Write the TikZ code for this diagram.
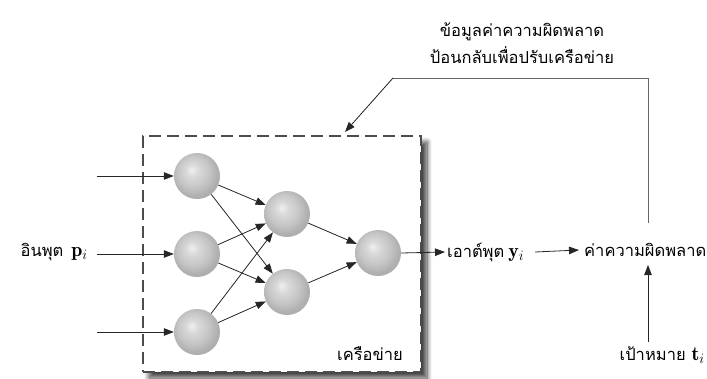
\documentclass[tikz,border=0pt]{standalone}
\usepackage{fontspec}
\newfontfamily\thai[Script=Thai]{Loma}
\usetikzlibrary{arrows.meta,shadows.blur}
\pgfdeclareradialshading{sphereshade}{\pgfpoint{-6bp}{7bp}}{color(0bp)=(gray!12); color(7bp)=(gray!30); color(17bp)=(gray!45); color(25bp)=(gray!62); color(32bp)=(gray!68); color(50bp)=(gray!68)}
\newcommand{\mvec}[1]{{\rmfamily\fontsize{20}{20}\selectfont$\mathbf{#1}_{\scriptstyle i}$}}
\begin{document}
\begin{tikzpicture}[x=1pt,y=-1pt,
  neuron/.style={circle,minimum size=46pt,inner sep=0pt,shading=sphereshade},
  conn/.style={draw=black!85,line width=0.8pt,-{Triangle[length=10pt,width=7.5pt]}},
  plain/.style={draw=black!60,line width=1pt},
  lbl/.style={font=\thai\fontsize{16.5}{18}\selectfont,inner sep=0pt},
  netbox/.style={draw=black!70,dash pattern=on 12pt off 6pt,line width=1.1pt,fill=white,
    blur shadow={shadow xshift=6pt,shadow yshift=-6pt,shadow blur radius=5pt,shadow blur steps=10,shadow opacity=75}}]
\useasboundingbox (0,0) rectangle (707,378);
% network box
\node[netbox,minimum width=278pt,minimum height=236pt,inner sep=0pt] (box) at (282,254) {};
\node[lbl] (netlbl) at (370,354) {เครือข่าย};
% neurons
\node[neuron] (i1) at (197,176) {};
\node[neuron] (i2) at (197,254) {};
\node[neuron] (i3) at (197,332) {};
\node[neuron] (h1) at (287,214) {};
\node[neuron] (h2) at (287,292) {};
\node[neuron] (o) at (378,253) {};
% input coordinates
\coordinate (s1) at (97,176);
\coordinate (s2) at (97,254);
\coordinate (s3) at (97,332);
\draw[conn] (s1) -- (i1);
\draw[conn] (s2) -- (i2);
\draw[conn] (s3) -- (i3);
\foreach \a in {i1,i2,i3}{\foreach \b in {h1,h2}{\draw[conn] (\a) -- (\b);}}
\draw[conn] (h1) -- (o);
\draw[conn] (h2) -- (o);
% labels
\node[lbl,anchor=east] (inp) at (88,252) {อินพุต\hspace{8pt}\mvec{p}};
\node[lbl,anchor=west] (outp) at (447,252) {เอาต์พุต\hspace{4pt}\mvec{y}};
\node[lbl,anchor=west] (err) at (584,250) {ค่าความผิดพลาด};
\node[lbl,anchor=east] (tgt) at (705,355) {เป้าหมาย\hspace{6pt}\mvec{t}};
\node[lbl,align=center,font=\thai\fontsize{16.5}{27}\selectfont] (fb) at (522,43) {ข้อมูลค่าความผิดพลาด\\ป้อนกลับเพื่อปรับเครือข่าย};
\draw[conn] (o.east) -- ([xshift=-2pt]outp.west);
\coordinate (ya) at (535,252);
\draw[conn] (ya) -- ([xshift=-5pt]err.west);
% feedback
\coordinate (fr) at (648,78);
\coordinate (fl) at (393,78);
\coordinate (fe) at (648,223);
\coordinate (ftip) at (345,132);
\draw[plain] (fe) -- (fr) -- (fl);
\draw[conn] (fl) -- (ftip);
% target
\coordinate (tb) at (648,342);
\coordinate (tt) at (648,265);
\draw[conn] (tb) -- (tt);
\end{tikzpicture}
\end{document}
